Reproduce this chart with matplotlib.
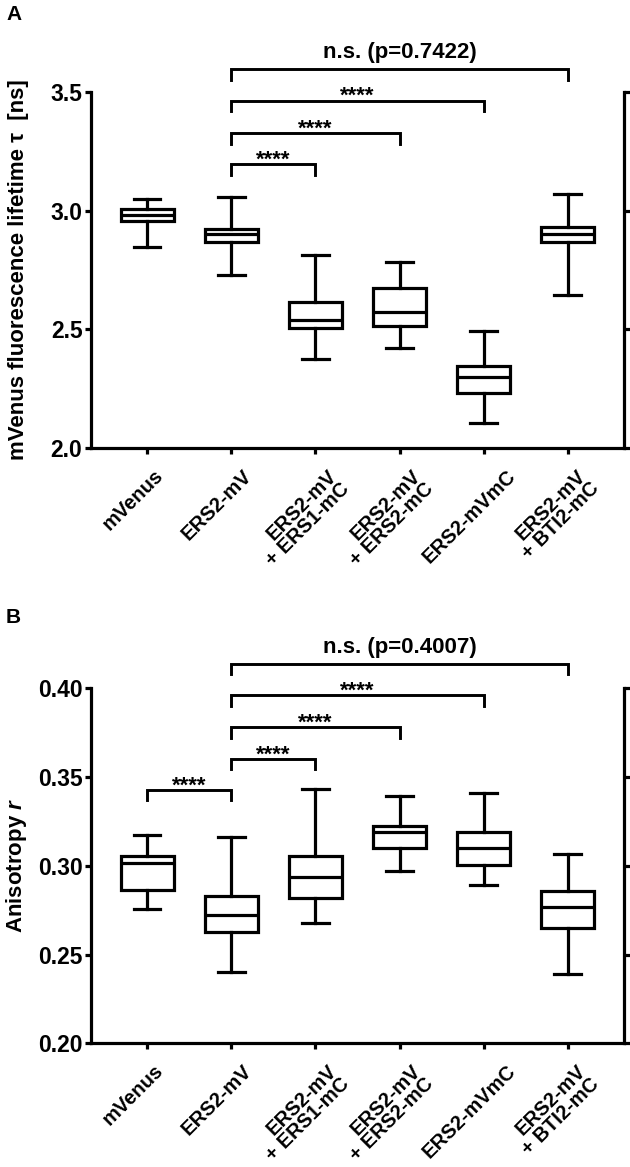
import matplotlib
matplotlib.use('Agg')
import matplotlib.pyplot as plt
from matplotlib.transforms import ScaledTranslation

plt.rcParams['font.family'] = ['Liberation Sans', 'DejaVu Sans']
plt.rcParams['font.weight'] = 'bold'
plt.rcParams['mathtext.fontset'] = 'custom'
plt.rcParams['mathtext.it'] = 'Liberation Sans:bold:italic'
plt.rcParams['mathtext.rm'] = 'Liberation Sans:bold'

LW = 2.3

groups = ['mVenus', 'ERS2-mV', 'ERS2-mV\n+ ERS1-mC', 'ERS2-mV\n+ ERS2-mC',
          'ERS2-mVmC', 'ERS2-mV\n+ BTI2-mC']

# panel A: fluorescence lifetime (ns)
a_whislo = [2.848, 2.730, 2.374, 2.422, 2.105, 2.643]
a_q1 = [2.956, 2.868, 2.507, 2.513, 2.232, 2.869]
a_med = [2.982, 2.900, 2.538, 2.573, 2.298, 2.900]
a_q3 = [3.007, 2.924, 2.614, 2.675, 2.347, 2.932]
a_whishi = [3.049, 3.059, 2.812, 2.782, 2.494, 3.070]
a_pairs = [(1, 2), (1, 3), (1, 4), (1, 5)]
a_levels = [3.195, 3.326, 3.463, 3.596]
a_texts = ['****', '****', '****', 'n.s. (p=0.7422)']

# panel B: anisotropy r
b_whislo = [0.2758, 0.2399, 0.2679, 0.2972, 0.2889, 0.2392]
b_q1 = [0.2863, 0.2625, 0.2820, 0.3100, 0.3002, 0.2648]
b_med = [0.3014, 0.2724, 0.2938, 0.3188, 0.3101, 0.2767]
b_q3 = [0.3053, 0.2831, 0.3055, 0.3225, 0.3192, 0.2856]
b_whishi = [0.3175, 0.3165, 0.3431, 0.3391, 0.3408, 0.3066]
b_pairs = [(0, 1), (1, 2), (1, 3), (1, 4), (1, 5)]
b_levels = [0.3427, 0.3602, 0.3780, 0.3961, 0.4137]
b_texts = ['****', '****', '****', '****', 'n.s. (p=0.4007)']


def draw_panel(ax, whislo, q1, med, q3, whishi, pairs, levels, texts,
               ylim, yticks, fmt, ylabel, tip):
    stats = []
    for i in range(len(groups)):
        stats.append(dict(whislo=whislo[i], q1=q1[i], med=med[i], q3=q3[i],
                          whishi=whishi[i], fliers=[]))
    x = list(range(len(groups)))
    line = dict(color='black', linewidth=LW)
    ax.bxp(stats, positions=x, widths=0.63, patch_artist=True, showfliers=False,
           boxprops=dict(facecolor='white', edgecolor='black', linewidth=LW),
           medianprops=line, whiskerprops=line,
           capprops=dict(color='black', linewidth=LW), capwidths=0.32)

    ax.set_xlim(-0.66, 5.67)
    ax.set_ylim(*ylim)
    ax.set_yticks(yticks)
    ax.set_yticklabels([fmt.format(v) for v in yticks])
    ax.set_xticks(x)
    ax.set_xticklabels([])

    # rotated group labels, bbox centred a little left of each tick
    shift = ScaledTranslation(-14 / 100, -18 / 100, ax.figure.dpi_scale_trans)
    for xi, g in zip(x, groups):
        ax.text(xi, 0, g, transform=ax.get_xaxis_transform() + shift,
                rotation=45, ha='center', va='top', multialignment='right',
                linespacing=0.95, fontsize=14.5, fontweight='bold')

    ax.spines['top'].set_visible(False)
    for s in ['left', 'right', 'bottom']:
        ax.spines[s].set_linewidth(LW)
    ax.tick_params(axis='both', direction='out', length=4.5, width=LW)
    ax.tick_params(axis='y', right=True, labelright=False, pad=2, labelsize=16.5)

    ax.set_ylabel(ylabel, fontsize=16, fontweight='bold')
    ax.yaxis.set_label_coords(-0.118, 0.5)

    for (i, j), y, t in zip(pairs, levels, texts):
        ax.plot([i, i, j, j], [y - tip, y, y, y - tip], color='black',
                linewidth=2.1, clip_on=False, solid_joinstyle='miter')
        off = 8 if t.startswith('n.s.') else -1
        ax.annotate(t, xy=((i + j) / 2, y), xytext=(0, off),
                    textcoords='offset points', ha='center', va='baseline',
                    fontsize=16, fontweight='bold', annotation_clip=False)


fig = plt.figure(figsize=(6.3, 11.67), dpi=100)
axA = fig.add_axes([0.1452, 0.6161, 0.8457, 0.3051])
axB = fig.add_axes([0.1452, 0.1060, 0.8457, 0.3042])

draw_panel(axA, a_whislo, a_q1, a_med, a_q3, a_whishi, a_pairs, a_levels, a_texts,
           (2.0, 3.5), [2.0, 2.5, 3.0, 3.5], '{:.1f}',
           'mVenus fluorescence lifetime τ  [ns]', 0.045)
draw_panel(axB, b_whislo, b_q1, b_med, b_q3, b_whishi, b_pairs, b_levels, b_texts,
           (0.20, 0.40), [0.20, 0.25, 0.30, 0.35, 0.40], '{:.2f}',
           'Anisotropy $r$', 0.0058)

fig.text(6 / 630, 1 - 20 / 1167, 'A', fontsize=15, fontweight='bold')
fig.text(6 / 630, 1 - 623 / 1167, 'B', fontsize=15, fontweight='bold')

fig.savefig('out.png', dpi=100)
